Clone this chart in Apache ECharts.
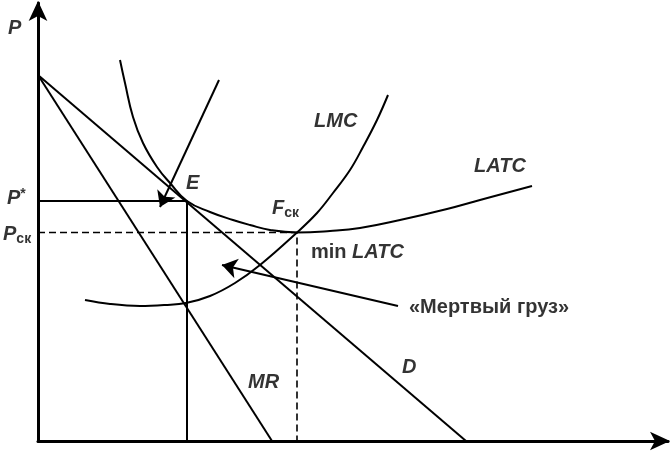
<!DOCTYPE html>
<html>
<head>
<meta charset="utf-8">
<script src="https://cdn.jsdelivr.net/npm/echarts@6/dist/echarts.min.js"></script>
<style>
html,body{margin:0;padding:0;background:#fff;}
#chart{width:672px;height:451px;}
</style>
</head>
<body>
<div id="chart"></div>
<script>
// ---- data (Q = quantity, P = price, arbitrary units) ----
const demandD = [[0, 36.6], [42.8, 0]];
const marginalRevenueMR = [[0, 36.6], [23.4, 0]];
const latcQ = [8.2, 8.7, 9.5, 10.5, 11.9, 13.2, 14.9, 17.2, 19.5, 21.2, 23.2, 25.9, 29.2, 32.2, 36.2, 40.9, 44.2, 49.4];
const latcP = [38.1, 35.8, 32.4, 29.8, 27.4, 25.8, 24.0, 22.9, 22.1, 21.6, 21.1, 20.85, 21.0, 21.3, 22.1, 23.2, 24.1, 25.5];
const lmcQ = [4.7, 7.2, 10.2, 12.7, 14.8, 17.2, 19.7, 22.2, 25.9, 27.9, 29.5, 31.2, 32.5, 33.9, 35.0];
const lmcP = [14.1, 13.7, 13.5, 13.6, 13.8, 14.5, 15.8, 17.6, 20.85, 22.8, 24.8, 27.1, 29.4, 32.1, 34.6];
const pointE = [14.9, 24.0];      // monopoly equilibrium (Q*, P*)
const pointF = [25.9, 20.85];     // competitive point (Q_ск, P_ск) = min LATC
const arrowE = [[18.1, 36.1], [12.2, 23.4]];
const arrowDeadweight = [[36.0, 13.5], [18.4, 17.6]];
const labelTexts = ['{i|P}', '{i|P}{sup|*}', '{i|P}{sub|ск}', '{i|E}', '{i|F}{sub|ск}', '{i|LMC}', '{i|LATC}',
  '{n|min }{i|LATC}', '{n|«Мертвый груз»}', '{i|MR}', '{i|D}'];

// ---- layout (label anchors, in chart units) ----
const labelAnchors = [[-3.0, 41.3], [-3.1, 24.3], [-3.5, 20.7], [14.8, 25.8], [23.4, 23.3], [27.6, 32.0],
  [43.6, 27.5], [27.3, 18.9], [37.1, 13.4], [21.0, 5.9], [36.4, 7.4]];

const zip = (a, b) => a.map((v, i) => [v, b[i]]);
const FONT = '"Liberation Sans", Arial, sans-serif';
const ink = '#000';

const chart = echarts.init(document.getElementById('chart'), null, {renderer: 'canvas'});
const lineBase = {type: 'line', symbol: 'none', silent: true, clip: false, z: 3};

chart.setOption({
  animation: false,
  backgroundColor: '#fff',
  grid: {left: 38, right: 4, top: 3, bottom: 10},
  xAxis: {
    type: 'value', min: 0, max: 63,
    axisLine: {show: true, onZero: false, symbol: ['none', 'arrow'], symbolSize: [14, 20], symbolOffset: [0, 2],
      lineStyle: {color: ink, width: 3}},
    axisTick: {show: false}, axisLabel: {show: false}, splitLine: {show: false}
  },
  yAxis: {
    type: 'value', min: 0, max: 43.8,
    axisLine: {show: true, onZero: false, symbol: ['none', 'arrow'], symbolSize: [14, 20], symbolOffset: [0, 2],
      lineStyle: {color: ink, width: 3}},
    axisTick: {show: false}, axisLabel: {show: false}, splitLine: {show: false}
  },
  series: [
    Object.assign({}, lineBase, {name: 'D', data: demandD, lineStyle: {color: ink, width: 2}}),
    Object.assign({}, lineBase, {name: 'MR', data: marginalRevenueMR, lineStyle: {color: ink, width: 2}}),
    Object.assign({}, lineBase, {name: 'LATC', data: zip(latcQ, latcP), smooth: 0.45, lineStyle: {color: ink, width: 2}}),
    Object.assign({}, lineBase, {name: 'LMC', data: zip(lmcQ, lmcP), smooth: 0.4, lineStyle: {color: ink, width: 2}}),
    Object.assign({}, lineBase, {name: 'E-lines',
      data: [[0, pointE[1]], pointE, [pointE[0], 0]], lineStyle: {color: ink, width: 2}}),
    Object.assign({}, lineBase, {name: 'F-lines',
      data: [[0, pointF[1]], pointF, [pointF[0], 0]], lineStyle: {color: ink, width: 1.6, type: [7, 4]}}),
    {
      type: 'lines', coordinateSystem: 'cartesian2d', silent: true, z: 4,
      symbol: ['none', 'arrow'], symbolSize: 15,
      lineStyle: {color: ink, width: 2, opacity: 1, curveness: 0},
      data: [{coords: arrowE}, {coords: arrowDeadweight}]
    },
    {
      type: 'scatter', symbolSize: 0, silent: true, clip: false, z: 5,
      data: labelAnchors.map((p, i) => ({value: p, txt: labelTexts[i]})),
      label: {
        show: true, position: 'inside', align: 'left', verticalAlign: 'middle', color: ink,
        textBorderWidth: 0,
        formatter: (p) => p.data.txt,
        rich: {
          i: {fontFamily: FONT, fontStyle: 'italic', fontWeight: 'bold', fontSize: 20, color: ink},
          n: {fontFamily: FONT, fontWeight: 'bold', fontSize: 20, color: ink},
          sup: {fontFamily: FONT, fontWeight: 'bold', fontSize: 14, color: ink, verticalAlign: 'top', padding: [0, 0, 8, 0]},
          sub: {fontFamily: FONT, fontWeight: 'bold', fontSize: 14, color: ink, verticalAlign: 'bottom', padding: [10, 0, 0, 0]}
        }
      }
    }
  ]
});
</script>
</body>
</html>
